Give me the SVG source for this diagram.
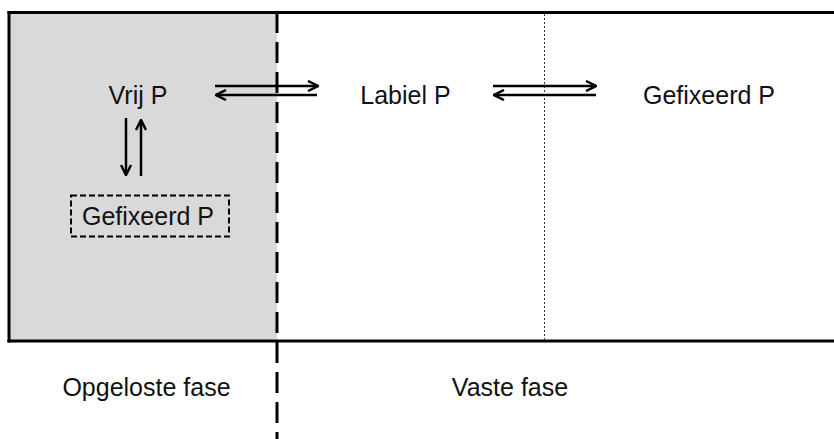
<svg xmlns="http://www.w3.org/2000/svg" width="834" height="439" viewBox="0 0 834 439">
  <style>
    .lbl { font-family: "Liberation Sans", Arial, sans-serif; font-size: 25px; fill: #111; text-anchor: middle; }
    .frame { stroke: #000; stroke-width: 3; fill: none; }
    .arr { stroke: #000; stroke-width: 2.5; fill: none; }
  </style>
  <defs>
    <marker id="head" viewBox="0 0 12 12" refX="11" refY="6" markerWidth="12" markerHeight="12" markerUnits="userSpaceOnUse" orient="auto-start-reverse">
      <path d="M1,1 L11,6 L1,11" fill="none" stroke="#000" stroke-width="2.5"/>
    </marker>
  </defs>

  <rect width="834" height="439" fill="#fff"/>

  <!-- dissolved phase shading -->
  <rect x="9" y="12" width="268" height="329" fill="#d9d9d9"/>

  <!-- outer frame -->
  <g id="frame">
    <line class="frame" x1="7.5" y1="12.5" x2="834" y2="12.5"/>
    <line class="frame" x1="7.5" y1="341" x2="834" y2="341"/>
    <line class="frame" x1="9" y1="11" x2="9" y2="342.5"/>
    <line x1="277" y1="12" x2="277" y2="439" stroke="#000" stroke-width="3" stroke-dasharray="21 9"/>
    <line x1="544.5" y1="14" x2="544.5" y2="340" stroke="#333" stroke-width="1" stroke-dasharray="2 2"/>
  </g>

  <g id="vrij-p"><text class="lbl" x="138" y="104">Vrij P</text></g>
  <g id="labiel-p"><text class="lbl" x="405.5" y="104">Labiel P</text></g>
  <g id="gefixeerd-p"><text class="lbl" x="709" y="104">Gefixeerd P</text></g>
  <g id="gefixeerd-p-opgelost">
    <rect x="71" y="195.5" width="158" height="41" fill="none" stroke="#000" stroke-width="2" stroke-dasharray="6 3"/>
    <text class="lbl" x="148" y="224.5">Gefixeerd P</text>
  </g>
  <g id="opgeloste-fase"><text class="lbl" x="146.5" y="396">Opgeloste fase</text></g>
  <g id="vaste-fase"><text class="lbl" x="510" y="396">Vaste fase</text></g>

  <g id="connectors">
    <line class="arr" x1="215" y1="86" x2="318" y2="86" marker-end="url(#head)"/>
    <line class="arr" x1="216" y1="95" x2="317" y2="95" marker-start="url(#head)"/>
    <line class="arr" x1="493" y1="86" x2="596" y2="86" marker-end="url(#head)"/>
    <line class="arr" x1="494" y1="95" x2="596" y2="95" marker-start="url(#head)"/>
    <line class="arr" x1="126" y1="118" x2="126" y2="175" marker-end="url(#head)"/>
    <line class="arr" x1="141" y1="176" x2="141" y2="120" marker-end="url(#head)"/>
  </g>
</svg>
